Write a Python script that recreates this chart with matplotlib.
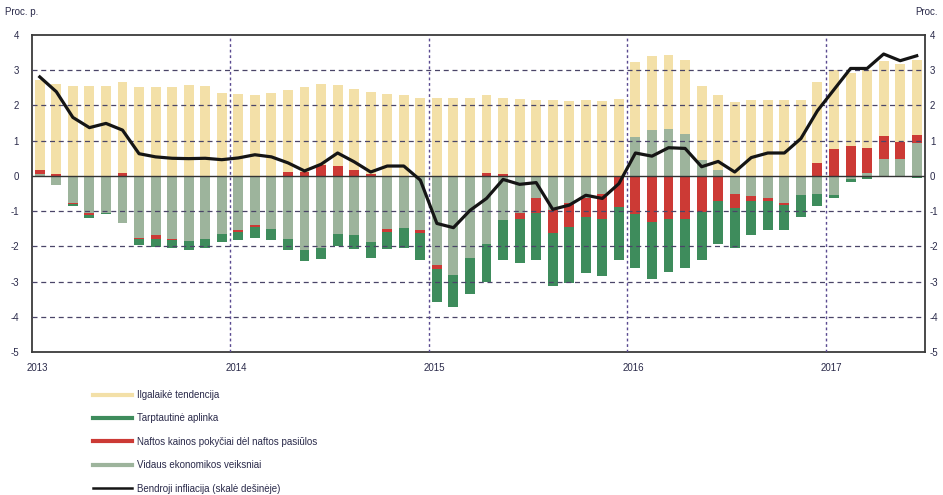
import matplotlib
matplotlib.use("Agg")
import matplotlib.pyplot as plt
from matplotlib.lines import Line2D
import numpy as np

plt.rcParams['font.family'] = ['Liberation Sans', 'DejaVu Sans']

years = ['2013', '2014', '2015', '2016', '2017']

ilgalaike = [2.54, 2.55, 2.55, 2.55, 2.55, 2.59, 2.53, 2.53, 2.53, 2.58, 2.55, 2.36,
             2.32, 2.29, 2.36, 2.33, 2.43, 2.32, 2.30, 2.31, 2.34, 2.32, 2.29, 2.22,
             2.20, 2.22, 2.20, 2.21, 2.17, 2.17, 2.15, 2.15, 2.13, 2.15, 2.12, 2.19,
             2.13, 2.10, 2.11, 2.11, 2.09, 2.13, 2.10, 2.15, 2.15, 2.15, 2.15, 2.30,
             2.27, 2.09, 2.20, 2.14, 2.24, 2.14]

tarptautine = [0.0, 0.0, -0.05, -0.08, -0.03, 0.0, -0.15, -0.24, -0.24, -0.25, -0.25, -0.23,
               -0.23, -0.30, -0.31, -0.31, -0.30, -0.31, -0.35, -0.38, -0.44, -0.49, -0.58, -0.78,
               -0.95, -0.90, -1.01, -1.07, -1.12, -1.26, -1.33, -1.52, -1.58, -1.59, -1.62, -1.50,
               -1.54, -1.61, -1.52, -1.40, -1.38, -1.22, -1.16, -0.96, -0.82, -0.71, -0.61, -0.35,
               -0.09, -0.09, -0.08, -0.02, -0.02, -0.05]

naftos = [0.12, 0.05, -0.02, -0.07, 0.0, 0.08, -0.05, -0.10, -0.03, 0.0, 0.0, 0.0,
          -0.05, -0.05, 0.0, 0.12, 0.10, 0.30, 0.28, 0.17, 0.05, -0.08, 0.0, -0.08,
          -0.11, 0.0, 0.0, 0.08, 0.05, -0.16, -0.43, -0.63, -0.68, -0.52, -0.71, -0.86,
          -1.07, -1.31, -1.21, -1.21, -1.02, -0.72, -0.40, -0.14, -0.10, -0.06, 0.0, 0.37,
          0.75, 0.84, 0.71, 0.64, 0.46, 0.24]

vidaus = [0.06, -0.25, -0.78, -1.05, -1.05, -1.35, -1.75, -1.68, -1.78, -1.85, -1.80, -1.65,
          -1.55, -1.40, -1.52, -1.78, -2.11, -2.06, -1.64, -1.69, -1.88, -1.50, -1.47, -1.54,
          -2.52, -2.82, -2.33, -1.94, -1.26, -1.05, -0.62, -0.98, -0.77, -0.64, -0.52, -0.02,
          1.11, 1.30, 1.32, 1.18, 0.46, 0.16, -0.50, -0.57, -0.62, -0.77, -0.55, -0.50,
          -0.55, -0.08, 0.09, 0.49, 0.49, 0.92]

infliacija = [2.81, 2.39, 1.66, 1.37, 1.49, 1.30, 0.63, 0.54, 0.50, 0.49, 0.50, 0.46,
              0.51, 0.60, 0.54, 0.37, 0.14, 0.33, 0.65, 0.40, 0.11, 0.28, 0.28, -0.12,
              -1.35, -1.47, -0.98, -0.64, -0.10, -0.24, -0.19, -0.95, -0.83, -0.55, -0.64, -0.22,
              0.65, 0.56, 0.80, 0.78, 0.26, 0.41, 0.11, 0.52, 0.65, 0.65, 1.06, 1.85,
              2.45, 3.05, 3.05, 3.46, 3.27, 3.41]

labels = ['Ilgalaikė tendencija', 'Tarptautinė aplinka',
          'Naftos kainos pokyčiai dėl naftos pasiūlos', 'Vidaus ekonomikos veiksniai',
          'Bendroji infliacija (skalė dešinėje)']

c_yel = '#F3E0A8'
c_grn = '#3E8C5C'
c_red = '#CC3A35'
c_gry = '#9DB49C'

W, H = 943, 495
fig = plt.figure(figsize=(W / 100, H / 100), dpi=100)
ax = fig.add_axes([31.5 / W, 1 - 352 / H, (925 - 31.5) / W, (352 - 35) / H])

n = len(infliacija)
x = np.arange(n) + 0.5
bw = 0.6

pos = np.zeros(n)
neg = np.zeros(n)
series = [(vidaus, c_gry), (naftos, c_red), (tarptautine, c_grn), (ilgalaike, c_yel)]
for vals, col in series:
    v = np.array(vals)
    bottom = np.where(v >= 0, pos, neg)
    ax.bar(x, v, bw, bottom=bottom, color=col, linewidth=0, zorder=2)
    pos = pos + np.where(v >= 0, v, 0)
    neg = neg + np.where(v < 0, v, 0)

ax.plot(x, infliacija, color='#151515', lw=2.3, zorder=5, solid_joinstyle='round')

ax.set_xlim(0, n)
ax.set_ylim(-5, 4)
ax.set_yticks(range(-5, 5))
ax.set_yticklabels([str(t) for t in range(-5, 5)])
ax.set_xticks([12 * k for k in range(len(years))])
ax.set_xticklabels([])
for k, yr in enumerate(years):
    ax.text(12 * k + 0.35, -5.3, yr, ha='center', va='top', fontsize=7, color='#2a2a4a')

for yv in range(-4, 4):
    if yv == 0:
        continue
    ax.axhline(yv, color='#4a4568', lw=0.9, ls=(0, (4, 3)), zorder=3)
for k in range(1, len(years)):
    ax.axvline(12 * k, color='#5a4a90', lw=1.0, ls=(0, (2, 2)), zorder=3)
ax.axhline(0, color='#333333', lw=1.0, zorder=4)

ax.tick_params(axis='both', length=0, labelsize=7, colors='#2a2a4a', pad=9)
for s in ax.spines.values():
    s.set_color('#3a3a3a')
    s.set_linewidth(1.3)

ax2 = ax.twinx()
ax2.set_ylim(-5, 4)
ax2.set_yticks(range(-5, 5))
ax2.set_yticklabels([str(t) for t in range(-5, 5)])
ax2.tick_params(axis='y', length=0, labelsize=7, colors='#2a2a4a', pad=3.5)
for s in ax2.spines.values():
    s.set_visible(False)

fig.text(5 / W, 1 - 12 / H, 'Proc. p.', fontsize=7, color='#2a2a4a', va='center', ha='left')
fig.text(915 / W, 1 - 12 / H, 'Proc.', fontsize=7, color='#2a2a4a', va='center', ha='left')

handles = [Line2D([], [], color=c_yel, lw=3),
           Line2D([], [], color=c_grn, lw=3),
           Line2D([], [], color=c_red, lw=3),
           Line2D([], [], color=c_gry, lw=3),
           Line2D([], [], color='#151515', lw=1.8)]
fig.legend(handles, labels, loc='upper left', bbox_to_anchor=(93 / W, 1 - 390 / H),
           frameon=False, fontsize=7, handlelength=4.0, handletextpad=0.5,
           labelspacing=1.38, borderaxespad=0, borderpad=0, labelcolor='#2a2a4a')

fig.savefig('out.png', dpi=100)
